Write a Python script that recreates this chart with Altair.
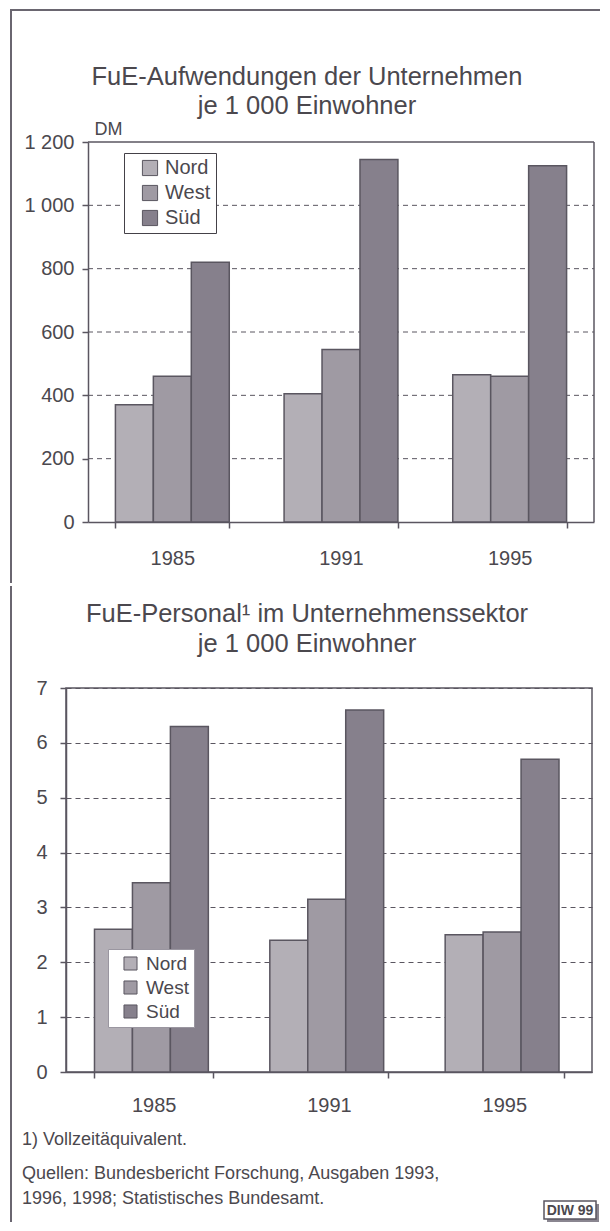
import altair as alt
import pandas as pd

# ---------------- data ----------------
years = ["1985", "1991", "1995"]
regions = ["Nord", "West", "Süd"]

aufw_nord = [370, 405, 465]
aufw_west = [460, 545, 460]
aufw_sued = [820, 1145, 1125]

pers_nord = [2.6, 2.4, 2.5]
pers_west = [3.45, 3.15, 2.55]
pers_sued = [6.3, 6.6, 5.7]

title_top = ["FuE-Aufwendungen der Unternehmen", "je 1 000 Einwohner"]
title_bottom = ["FuE-Personal\u00b9 im Unternehmenssektor", "je 1 000 Einwohner"]
unit_top = "DM"
ticks_top = [0, 200, 400, 600, 800, 1000, 1200]
ticks_bottom = [0, 1, 2, 3, 4, 5, 6, 7]
footnotes = [
    "1) Vollzeitäquivalent.",
    "Quellen: Bundesbericht Forschung, Ausgaben 1993,",
    "1996, 1998; Statistisches Bundesamt.",
]
badge = "DIW 99"

# ---------------- styles ----------------
FONT = "Liberation Sans"
INK = "#5a5660"
TEXT = "#4b484e"
FRAME = "#6a6670"
fills = ["#b3afb6", "#9f9aa3", "#86808c"]


def table(n, w, s):
    rows = []
    for i, y in enumerate(years):
        for r, v in zip(regions, [n[i], w[i], s[i]]):
            rows.append({"Jahr": y, "Region": r, "Wert": v})
    return pd.DataFrame(rows)


df_top = table(aufw_nord, aufw_west, aufw_sued)
df_bot = table(pers_nord, pers_west, pers_sued)
df_grid_top = pd.DataFrame({"Wert": ticks_top[1:-1]})

color_scale = alt.Scale(domain=regions, range=fills)
one = alt.Data(values=[{"k": 1}])
label_expr = "replace(format(datum.value, ','), ',', ' ')"


def text_line(txt, x, y, size, align="center"):
    return alt.Chart(one).mark_text(
        text=txt, align=align, baseline="middle", fontSize=size, font=FONT,
        color=TEXT).encode(x=alt.value(x), y=alt.value(y))


legend_top = alt.Legend(orient="none", legendX=58, legendY=11, title=None,
                        fillColor="white", strokeColor="#444148",
                        padding=5, symbolOffset=11, rowPadding=5, labelOffset=5,
                        symbolType="square", symbolSize=230, symbolStrokeColor=INK,
                        symbolStrokeWidth=1, labelFontSize=20, labelColor=TEXT,
                        labelFont=FONT)
legend_bot = alt.Legend(orient="none", legendX=42, legendY=261, title=None,
                        fillColor="white", strokeColor="#9a96a0",
                        padding=5, symbolOffset=8, rowPadding=4, labelOffset=6,
                        symbolType="square", symbolSize=170, symbolStrokeColor=INK,
                        symbolStrokeWidth=1, labelFontSize=19, labelColor=TEXT,
                        labelFont=FONT)

# ---------------- top panel: group origin at page x 64; plot x 86..592, y 141..521 ----------------
W1, H1 = 528, 380
XL, XR = 22, 528
y_top = alt.Scale(domain=[0, 1200], nice=False)
top_bars = alt.Chart(df_top).mark_bar(stroke=INK, strokeWidth=1.5).encode(
    x=alt.X("Jahr:N", sort=years,
            scale=alt.Scale(range=[XL, XR], paddingInner=0.325, paddingOuter=0.1625),
            axis=alt.Axis(title=None, labelAngle=0, tickBand="extent", tickSize=6,
                          labelPadding=20, grid=False)),
    xOffset=alt.XOffset("Region:N", sort=regions),
    y=alt.Y("Wert:Q", scale=y_top,
            axis=alt.Axis(values=ticks_top, labelExpr=label_expr, tickSize=6,
                          labelPadding=8, grid=False, offset=-XL,
                          title=unit_top, titleAngle=0, titleX=6, titleY=-13,
                          titleAlign="left", titleBaseline="middle",
                          titleFontSize=18, titleFontWeight="normal",
                          titleColor=TEXT, titleFont=FONT)),
    color=alt.Color("Region:N", sort=regions, scale=color_scale, legend=legend_top),
)
grid_top = alt.Chart(df_grid_top).mark_rule(color=INK, strokeWidth=1, strokeDash=[5, 4]).encode(
    y=alt.Y("Wert:Q", scale=y_top), x=alt.value(XL), x2=alt.value(XR))
border_top = alt.Chart(one).mark_rule(color=INK, strokeWidth=1.5).encode(
    y=alt.datum(ticks_top[-1]), x=alt.value(XL), x2=alt.value(XR))
border_right = alt.Chart(one).mark_rule(color=INK, strokeWidth=1.5).encode(
    x=alt.value(XR), y=alt.datum(ticks_top[0]), y2=alt.datum(ticks_top[-1]))

frame_top = alt.Chart(one).mark_rule(color=FRAME, strokeWidth=2).encode(
    x=alt.value(-55), x2=alt.value(534), y=alt.value(-132))
frame_left1 = alt.Chart(one).mark_rule(color=FRAME, strokeWidth=2, strokeCap="square").encode(
    x=alt.value(-55), y=alt.value(-132), y2=alt.value(440))
t1a = text_line(title_top[0], 241, -65, 25.5)
t1b = text_line(title_top[1], 241, -36, 25.5)

top = alt.layer(grid_top, top_bars, border_top, border_right, frame_top, frame_left1,
                t1a, t1b).properties(width=W1, height=H1,
                                     view=alt.ViewBackground(stroke="transparent"))

# ---------------- bottom panel: plot x 64..590, y 684..1068 ----------------
W2, H2 = 526, 384
bot_bars = alt.Chart(df_bot).mark_bar(stroke=INK, strokeWidth=1.5).encode(
    x=alt.X("Jahr:N", sort=years,
            scale=alt.Scale(paddingInner=0.325, paddingOuter=0.1625),
            axis=alt.Axis(title=None, labelAngle=0, tickBand="extent", tickSize=6,
                          labelPadding=17, grid=False)),
    xOffset=alt.XOffset("Region:N", sort=regions),
    y=alt.Y("Wert:Q", scale=alt.Scale(domain=[0, 7], nice=False),
            axis=alt.Axis(values=ticks_bottom, tickSize=6, labelPadding=13,
                          grid=True, gridDash=[5, 4], gridColor=INK, gridWidth=1,
                          title=None)),
    color=alt.Color("Region:N", sort=regions, scale=color_scale, legend=legend_bot),
)
frame_left2 = alt.Chart(one).mark_rule(color=FRAME, strokeWidth=2, strokeCap="square").encode(
    x=alt.value(-55), y=alt.value(-101), y2=alt.value(533))
t2a = text_line(title_bottom[0], 241, -74, 25.5)
t2b = text_line(title_bottom[1], 241, -44, 25.5)

notes = [text_line(txt, -44, ny, 18, align="left")
         for txt, ny in zip(footnotes, [452, 486, 511])]

badge_shadow = alt.Chart(one).mark_rect(fill="#8a8690").encode(
    x=alt.value(481), x2=alt.value(533), y=alt.value(516), y2=alt.value(534))
badge_box = alt.Chart(one).mark_rect(fill="white", stroke="#5a5660", strokeWidth=1.5).encode(
    x=alt.value(478), x2=alt.value(530), y=alt.value(513), y2=alt.value(531))
badge_text = alt.Chart(one).mark_text(
    text=badge, fontSize=14, fontWeight="bold", font=FONT, color=TEXT,
    align="center", baseline="middle").encode(x=alt.value(504), y=alt.value(522.5))

bottom = alt.layer(bot_bars, frame_left2, t2a, t2b, *notes,
                   badge_shadow, badge_box, badge_text).properties(
    width=W2, height=H2, view=alt.ViewBackground(stroke=INK, strokeWidth=1.5))

chart = alt.vconcat(top, bottom, spacing=0).resolve_legend(
    color="independent"
).properties(padding=0, background="white").configure(
    font=FONT
).configure_axis(
    labelFont=FONT, labelFontSize=20, labelColor=TEXT,
    domainColor=INK, domainWidth=1.5, tickColor=INK, tickWidth=1.5,
)

chart.save("out.html", embed_options={"renderer": "svg", "actions": False})
